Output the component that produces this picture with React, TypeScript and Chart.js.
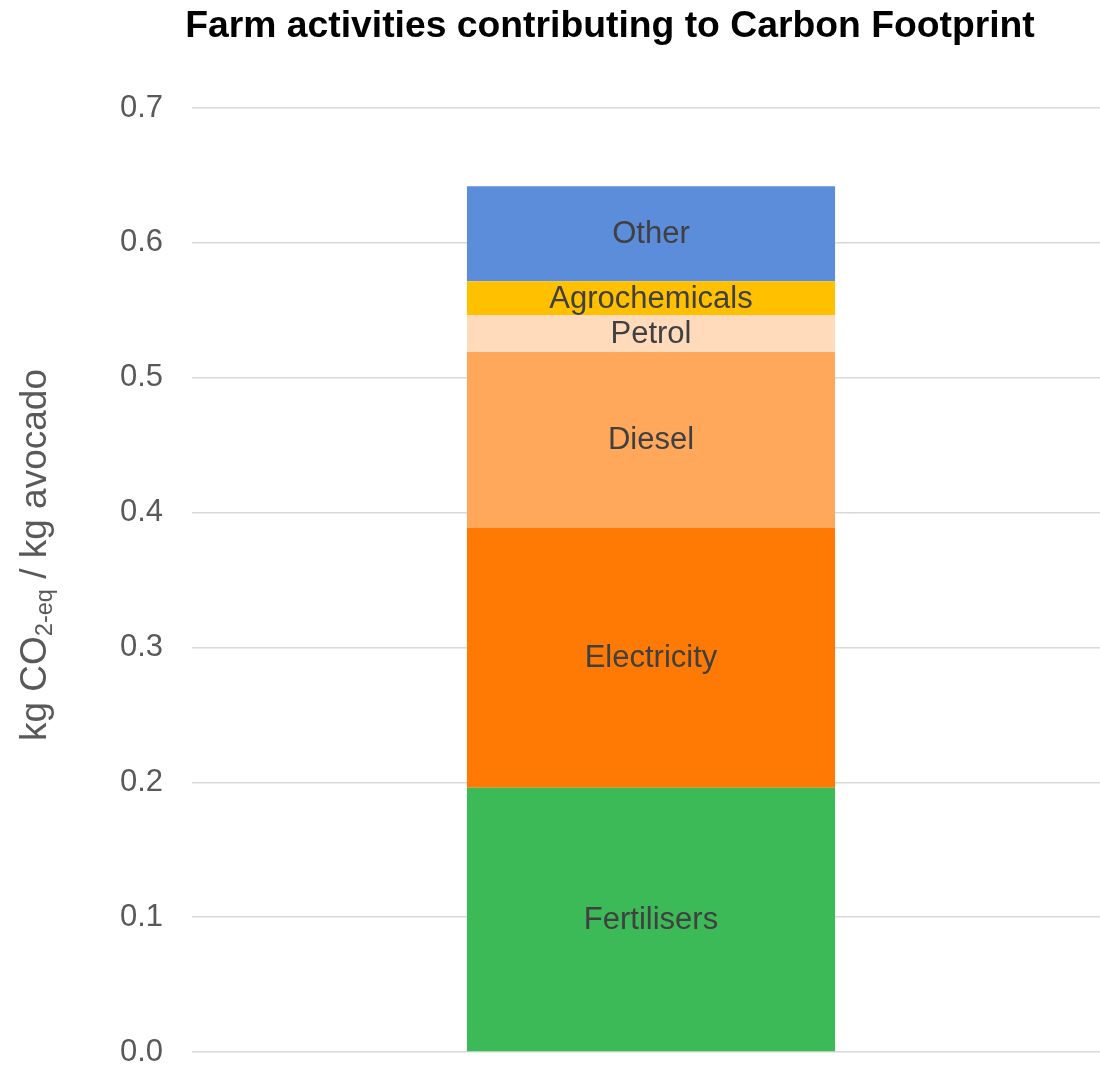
import React, { useEffect, useRef } from "react";
import { Chart, registerables } from "chart.js";

Chart.register(...registerables);

const categories = ["Farm"];
const seriesNames = ["Fertilisers", "Electricity", "Diesel", "Petrol", "Agrochemicals", "Other"];
const seriesValues = [0.196, 0.193, 0.130, 0.0275, 0.025, 0.0705];
const seriesColors = ["#3DBA58", "#FF7A05", "#FFA85C", "#FFDBBC", "#FFC000", "#5B8DDB"];
const yTicks = [0, 0.1, 0.2, 0.3, 0.4, 0.5, 0.6, 0.7];
const titleText = "Farm activities contributing to Carbon Footprint";

const FONT = "'Liberation Sans', Arial, sans-serif";

const overlayPlugin = {
  id: "overlay",
  afterDatasetsDraw(chart: any) {
    const ctx = chart.ctx;
    ctx.save();
    // bar labels
    ctx.font = `31px ${FONT}`;
    ctx.fillStyle = "#404040";
    ctx.textAlign = "center";
    ctx.textBaseline = "middle";
    chart.data.datasets.forEach((ds: any, i: number) => {
      const meta = chart.getDatasetMeta(i);
      meta.data.forEach((el: any) => {
        const yc = (el.y + el.base) / 2;
        ctx.fillText(ds.label, el.x, yc + 1);
      });
    });
    // title
    ctx.font = `bold 37.3px ${FONT}`;
    ctx.fillStyle = "#000000";
    ctx.textAlign = "center";
    ctx.textBaseline = "alphabetic";
    ctx.fillText(titleText, 610, 37);
    // y axis title with subscript
    ctx.translate(46, 555);
    ctx.rotate(-Math.PI / 2);
    ctx.fillStyle = "#595959";
    ctx.textAlign = "left";
    const mainFont = `37px ${FONT}`;
    const subFont = `23.5px ${FONT}`;
    const p1 = "kg CO";
    const p2 = "2-eq";
    const p3 = " / kg avocado";
    ctx.font = mainFont;
    const w1 = ctx.measureText(p1).width;
    const w3 = ctx.measureText(p3).width;
    ctx.font = subFont;
    const w2 = ctx.measureText(p2).width;
    let x = -(w1 + w2 + w3) / 2;
    ctx.font = mainFont;
    ctx.fillText(p1, x, 0);
    x += w1;
    ctx.font = subFont;
    ctx.fillText(p2, x, 6);
    x += w2;
    ctx.font = mainFont;
    ctx.fillText(p3, x, 0);
    ctx.restore();
  },
};

export default function App() {
  const ref = useRef<HTMLCanvasElement | null>(null);
  useEffect(() => {
    if (!ref.current) return;
    const chart = new Chart(ref.current, {
      type: "bar",
      data: {
        labels: categories,
        datasets: seriesNames.map((name, i) => ({
          label: name,
          data: [seriesValues[i]],
          backgroundColor: seriesColors[i],
          borderWidth: 0,
          categoryPercentage: 1,
          barPercentage: 0.401,
        })),
      },
      options: {
        animation: false,
        responsive: false,
        devicePixelRatio: 1,
        layout: { padding: { top: 108, right: 0, bottom: 13, left: 0 } },
        plugins: {
          legend: { display: false },
          title: { display: false },
          tooltip: { enabled: false },
        },
        scales: {
          x: { stacked: true, display: false },
          y: {
            stacked: true,
            min: 0,
            max: 0.7,
            afterFit: (scale: any) => {
              scale.width = 192;
            },
            afterBuildTicks: (scale: any) => {
              scale.ticks = yTicks.map((v) => ({ value: v }));
            },
            border: { display: false },
            grid: {
              color: "#D9D9D9",
              lineWidth: 1.5,
              drawTicks: true,
              tickLength: 29,
              tickColor: "rgba(0,0,0,0)",
            },
            ticks: {
              padding: 0,
              color: "#595959",
              font: { family: FONT, size: 31, lineHeight: 0.8 },
              callback: (v: any) => Number(v).toFixed(1),
            },
          },
        },
      },
      plugins: [overlayPlugin],
    });
    return () => chart.destroy();
  }, []);
  return (
    <div style={{ position: "fixed", left: 0, top: 0, width: 1100, height: 1065, overflow: "hidden", background: "#fff" }}>
      <canvas ref={ref} width={1110} height={1065} style={{ display: "block" }} />
    </div>
  );
}
